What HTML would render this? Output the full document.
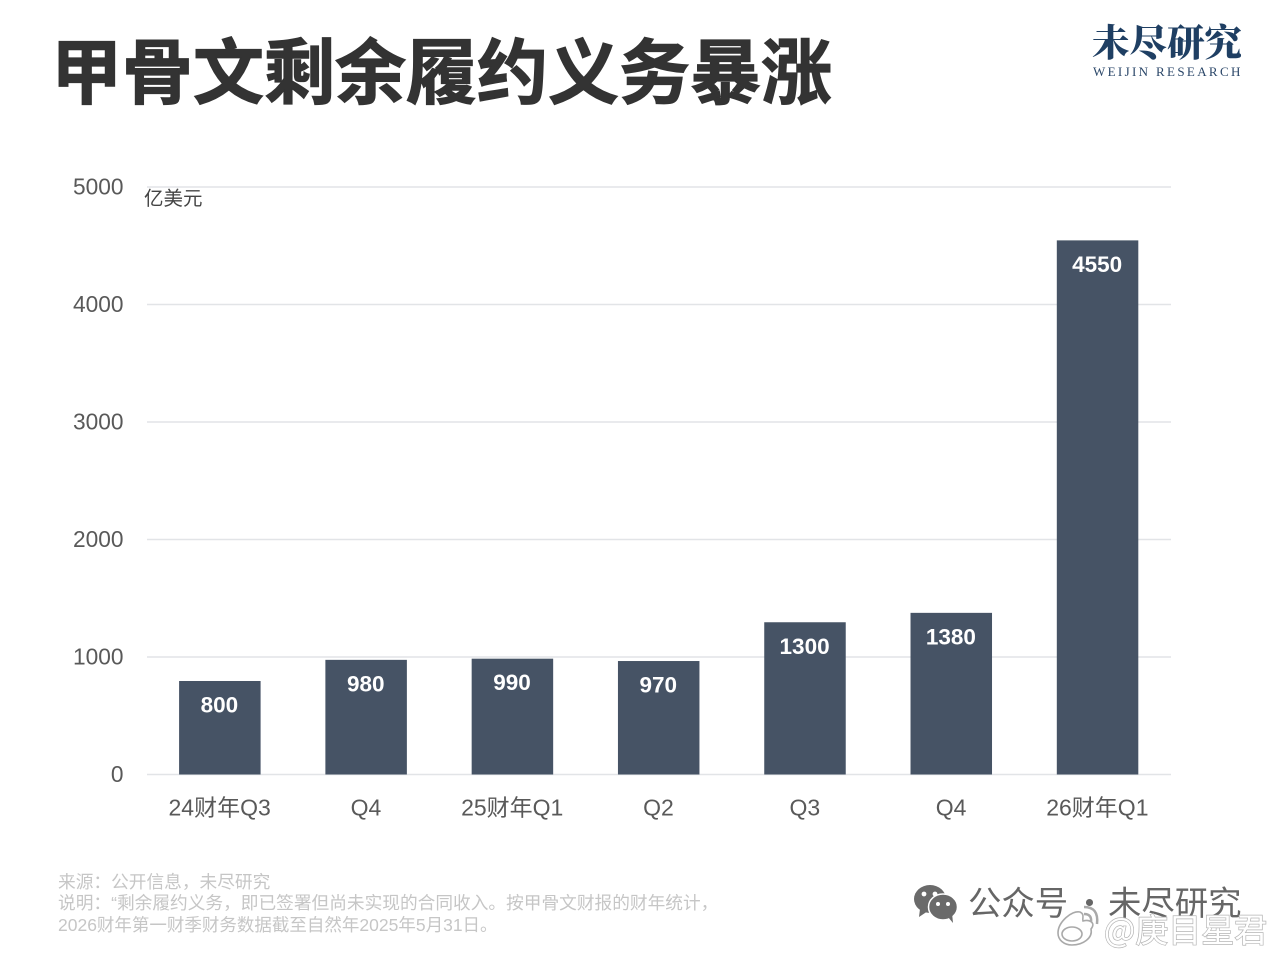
<!DOCTYPE html>
<html lang="zh">
<head>
<meta charset="utf-8">
<title>甲骨文剩余履约义务暴涨</title>
<style>
html,body{margin:0;padding:0;background:#fff}
body{width:1280px;height:960px;overflow:hidden;position:relative}
svg{display:block}
text{font-family:"Liberation Sans","Noto Sans CJK SC",sans-serif}
</style>
</head>
<body>
<svg id="chart" xmlns="http://www.w3.org/2000/svg" width="1280" height="960" viewBox="0 0 1280 960">
  <rect x="0" y="0" width="1280" height="960" fill="#ffffff"/>
  <text x="51" y="98" font-size="71" font-weight="700" fill="#333333" stroke="#333333" stroke-width="1.2" style="font-family:'Noto Sans CJK SC',sans-serif">甲骨文剩余履约义务暴涨</text>
  <g>
    <text x="1092" y="56" font-size="37.5" font-weight="900" fill="#1f3f63" style="font-family:'Noto Serif CJK SC',serif">未尽研究</text>
    <text x="1093" y="76" font-size="13" fill="#2a4668" letter-spacing="2.35" style="font-family:'Liberation Serif',serif">WEIJIN RESEARCH</text>
  </g>
  <g id="grid"></g>
  <g id="yticks"></g>
  <g id="bars"></g>
  <g id="xticks"></g>
  <text x="144" y="205" font-size="19.5" fill="#444444" style="font-family:'Noto Sans CJK SC',sans-serif">亿美元</text>
  <g font-size="17.7" fill="#c6c6c6">
    <text x="58" y="888">来源：公开信息，未尽研究</text>
    <text x="58" y="909">说明：“剩余履约义务，即已签署但尚未实现的合同收入。按甲骨文财报的财年统计，</text>
    <text x="58" y="931" font-size="17.5">2026财年第一财季财务数据截至自然年2025年5月31日。</text>
  </g>
  <g>
    <g>
      <ellipse cx="930" cy="899" rx="16" ry="14" fill="#6a6a6a"/>
      <path d="M920 909 L919 917 L928 911 Z" fill="#6a6a6a"/>
      <circle cx="924" cy="894" r="2.4" fill="#fff"/>
      <circle cx="935" cy="894" r="2.4" fill="#fff"/>
      <ellipse cx="943" cy="907" rx="14.5" ry="13" fill="#6a6a6a" stroke="#fff" stroke-width="1.5"/>
      <path d="M948 917 L953 923 L952 913 Z" fill="#6a6a6a"/>
      <circle cx="938" cy="904" r="2" fill="#fff"/>
      <circle cx="948" cy="904" r="2" fill="#fff"/>
    </g>
    <text x="968" y="915" font-size="33.4" fill="#666666" style="font-family:'Noto Sans CJK SC',sans-serif">公众号</text>
    <text x="1073" y="915" font-size="33" fill="#666666" style="font-family:'Noto Sans CJK SC',sans-serif">·</text>
    <text x="1108" y="915" font-size="33.4" fill="#666666" style="font-family:'Noto Sans CJK SC',sans-serif">未尽研究</text>
  </g>
  <g>
    <g fill="#ffffff" stroke="#a9a9a9" stroke-width="1.6">
      <path d="M1058 933 C1058 922 1072 910 1080 912 C1085 914 1082 919 1083 921 C1090 919 1096 923 1091 929 C1093 938 1083 945 1072 945 C1064 945 1058 940 1058 933 Z"/>
      <ellipse cx="1072" cy="934" rx="10" ry="7"/>
      <path d="M1084 914 Q1092 914 1091 922" fill="none" stroke-width="2.5"/>
      <path d="M1084 907 Q1099 907 1097 924" fill="none" stroke-width="2.5"/>
    </g>
    <text x="1104" y="942" font-size="33" fill="#ffffff" stroke="#b4b4b4" stroke-width="1.4" paint-order="stroke" style="font-family:'Noto Sans CJK SC',sans-serif">@庚目星君</text>
  </g>
</svg>
<script>
var categories = ["24财年Q3", "Q4", "25财年Q1", "Q2", "Q3", "Q4", "26财年Q1"];
var values = [800, 980, 990, 970, 1300, 1380, 4550];
var valueTicks = [0, 1000, 2000, 3000, 4000, 5000];

var NS = "http://www.w3.org/2000/svg";
var plot = { left: 147, right: 1171, top: 187, bottom: 774.5 };
var yMax = 5000;
var barWidth = 81.5;

function yScale(v) {
  return plot.bottom - (v / yMax) * (plot.bottom - plot.top);
}
function xBand(i) {
  return plot.left + (i + 0.5) * (plot.right - plot.left) / categories.length;
}
function make(tag, attrs, parent, content) {
  var el = document.createElementNS(NS, tag);
  for (var k in attrs) el.setAttribute(k, attrs[k]);
  if (content !== undefined) el.textContent = content;
  parent.appendChild(el);
  return el;
}

var grid = document.getElementById("grid");
var yticks = document.getElementById("yticks");
var bars = document.getElementById("bars");
var xticks = document.getElementById("xticks");

valueTicks.forEach(function (t) {
  var line = make("line", { x1: plot.left, x2: plot.right, y1: yScale(t), y2: yScale(t), stroke: "#e2e4e7", "stroke-width": 1.6 }, grid);
  
  
  var label = make("text", { x: 123.5, y: yScale(t) + 7.5, "text-anchor": "end", "font-size": 22.7, fill: "#595959" }, yticks, String(t));
  
  
});

values.forEach(function (v, i) {
  var cx = xBand(i);
  var rect = make("rect", { x: cx - 0.3 - barWidth / 2, y: yScale(v) + 0.5, width: barWidth, height: plot.bottom - yScale(v) - 0.5, fill: "#465365" }, bars);
  
  
  var label = make("text", { x: cx - 0.7, y: yScale(v) + 32, "text-anchor": "middle", "font-size": 22.5, "font-weight": "bold", fill: "#ffffff" }, bars, String(v));
  
  
});

categories.forEach(function (c, i) {
  var label = make("text", { x: xBand(i) - 0.5, y: 815.5, "text-anchor": "middle", "font-size": 23, fill: "#595959" }, xticks, c);
  
  
});
</script>
</body>
</html>
